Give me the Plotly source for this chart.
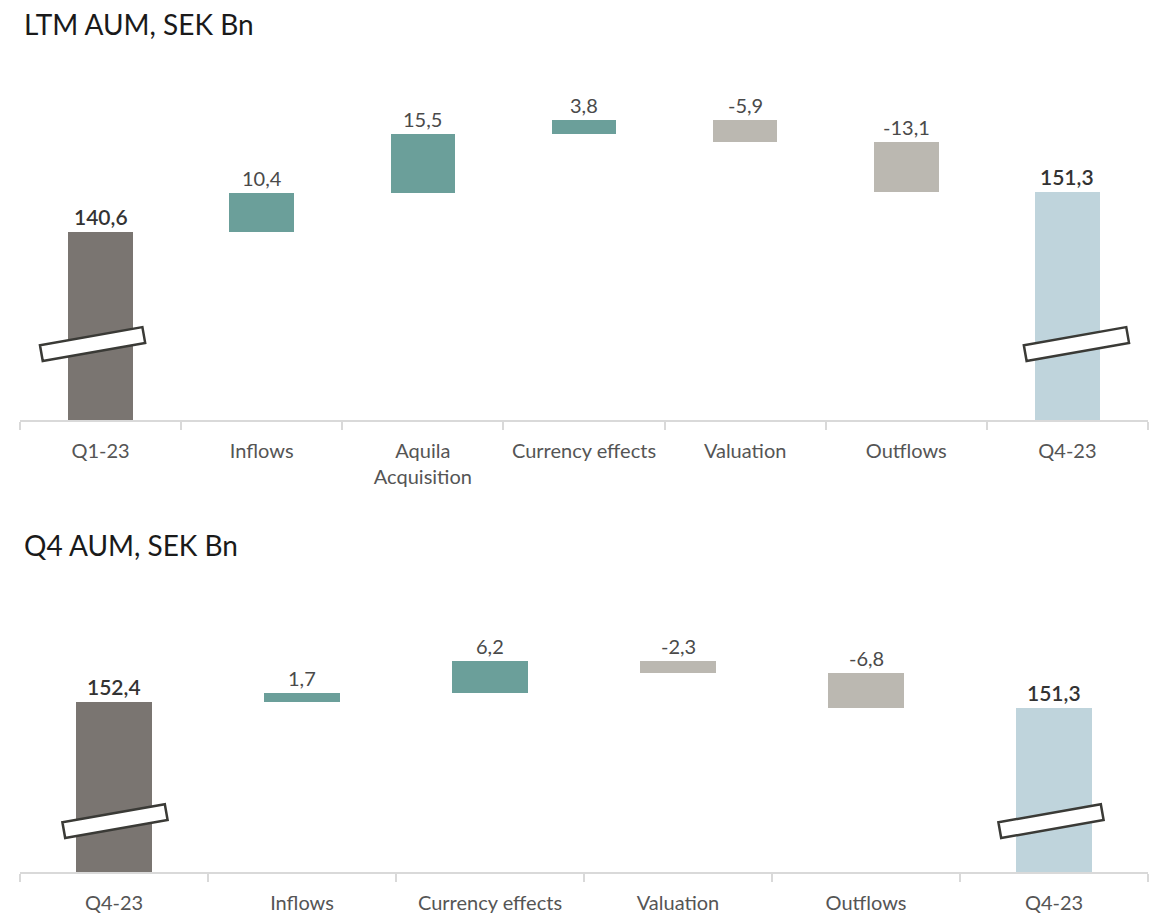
import math
import plotly.graph_objects as go

# ---- data ----
ltm_labels = ["Q1-23", "Inflows", "Aquila<br>Acquisition", "Currency effects",
              "Valuation", "Outflows", "Q4-23"]
ltm_values = [140.6, 10.4, 15.5, 3.8, -5.9, -13.1, 151.3]
ltm_kinds = ["start", "step", "step", "step", "step", "step", "end"]

q4_labels = ["Q4-23", "Inflows", "Currency effects", "Valuation", "Outflows", "Q4-23"]
q4_values = [152.4, 1.7, 6.2, -2.3, -6.8, 151.3]
q4_kinds = ["start", "step", "step", "step", "step", "end"]

# ---- style ----
C_START = "#7a7571"
C_END = "#bfd4dc"
C_UP = "#6b9f9a"
C_DOWN = "#bbb8b1"
FONT = "Lato"
W, H = 1158, 916


def waterfall_parts(values, kinds):
    bases, heights, colors, tops = [], [], [], []
    running = 0.0
    for v, k in zip(values, kinds):
        if k in ("start", "end"):
            bases.append(0)
            heights.append(v)
            colors.append(C_START if k == "start" else C_END)
            tops.append(v)
            running = v
        else:
            bases.append(running)
            heights.append(v)
            colors.append(C_UP if v >= 0 else C_DOWN)
            tops.append(max(running, running + v))
            running += v
    return bases, heights, colors, tops


def fmt(v):
    return f"{v:.1f}".replace(".", ",")


fig = go.Figure()
annotations = []
shapes = []

panels = [
    dict(labels=ltm_labels, values=ltm_values, kinds=ltm_kinds, xa="x", ya="y",
         yrange=[90.7, 186.2], ydom=[1 - 420 / H, 1 - 60 / H],
         breaks=[(0, -8, 110.85), (6, 9, 110.85)]),
    dict(labels=q4_labels, values=q4_values, kinds=q4_kinds, xa="x2", ya="y2",
         yrange=[120.0, 171.9], ydom=[1 - 872 / H, 1 - 600 / H],
         breaks=[(0, 1, 129.7), (5, -3, 129.7)]),
]

for p in panels:
    n = len(p["values"])
    xs = list(range(n))
    bases, heights, colors, tops = waterfall_parts(p["values"], p["kinds"])
    fig.add_trace(go.Bar(
        x=xs, y=heights, base=bases, marker=dict(color=colors, line=dict(width=0)),
        width=0.4, xaxis=p["xa"], yaxis=p["ya"], hoverinfo="skip", showlegend=False,
    ))
    for i, (v, k, t) in enumerate(zip(p["values"], p["kinds"], tops)):
        is_total = k in ("start", "end")
        annotations.append(dict(
            x=i, y=t, xref=p["xa"], yref=p["ya"], text=fmt(v), showarrow=False,
            yanchor="bottom", yshift=1,
            font=dict(family=FONT, size=21 if is_total else 20,
                      color="#333333" if is_total else "#4a4a4a",
                      weight=600 if is_total else 400),
        ))
    # axis-break markers drawn across the total bars
    for idx, dx, yv in p["breaks"]:
        half_l, half_t, ang = 52, 8, math.radians(10)
        ux, uy = math.cos(ang), math.sin(ang)
        px, py = -uy, ux
        pts = [
            (dx - half_l * ux - half_t * px, -half_l * uy - half_t * py),
            (dx + half_l * ux - half_t * px, half_l * uy - half_t * py),
            (dx + half_l * ux + half_t * px, half_l * uy + half_t * py),
            (dx - half_l * ux + half_t * px, -half_l * uy + half_t * py),
        ]
        path = "M " + " L ".join(f"{a:.2f},{b:.2f}" for a, b in pts) + " Z"
        shapes.append(dict(
            type="path", path=path, xref=p["xa"], yref=p["ya"],
            xsizemode="pixel", ysizemode="pixel", xanchor=idx, yanchor=yv,
            fillcolor="white", line=dict(color="#3a3a36", width=2.5), layer="above",
        ))

    axis_common = dict(
        domain=[20 / W, 1148 / W], range=[-0.5, n - 0.5],
        tickmode="array", tickvals=xs, ticktext=p["labels"], ticks="",
        showline=True, linecolor="#d9d9d9", linewidth=2,
        showgrid=False, zeroline=False, fixedrange=True,
        tickfont=dict(family=FONT, size=20, color="#555555"),
        ticklabelstandoff=12,
        minor=dict(tickmode="array", tickvals=[i - 0.5 for i in range(n + 1)],
                   ticks="outside", ticklen=8, tickwidth=2, tickcolor="#d9d9d9",
                   showgrid=False),
    )
    yaxis_common = dict(
        domain=p["ydom"], range=p["yrange"], visible=False, fixedrange=True,
    )
    xname = "xaxis" if p["xa"] == "x" else "xaxis2"
    yname = "yaxis" if p["ya"] == "y" else "yaxis2"
    fig.update_layout({xname: dict(axis_common, anchor=p["ya"]),
                       yname: dict(yaxis_common, anchor=p["xa"])})

annotations.append(dict(
    x=22 / W, y=1 - 24 / H, xref="paper", yref="paper", xanchor="left", yanchor="middle",
    text="LTM AUM, SEK Bn", showarrow=False,
    font=dict(family=FONT, size=28, color="#1a1a1a"),
))
annotations.append(dict(
    x=22 / W, y=1 - 545 / H, xref="paper", yref="paper", xanchor="left", yanchor="middle",
    text="Q4 AUM, SEK Bn", showarrow=False,
    font=dict(family=FONT, size=28, color="#1a1a1a"),
))

fig.update_layout(
    width=W, height=H, margin=dict(l=0, r=0, t=0, b=0),
    paper_bgcolor="white", plot_bgcolor="white",
    bargap=0, annotations=annotations, shapes=shapes,
)

fig.write_html("out.html", config={"displayModeBar": False})
